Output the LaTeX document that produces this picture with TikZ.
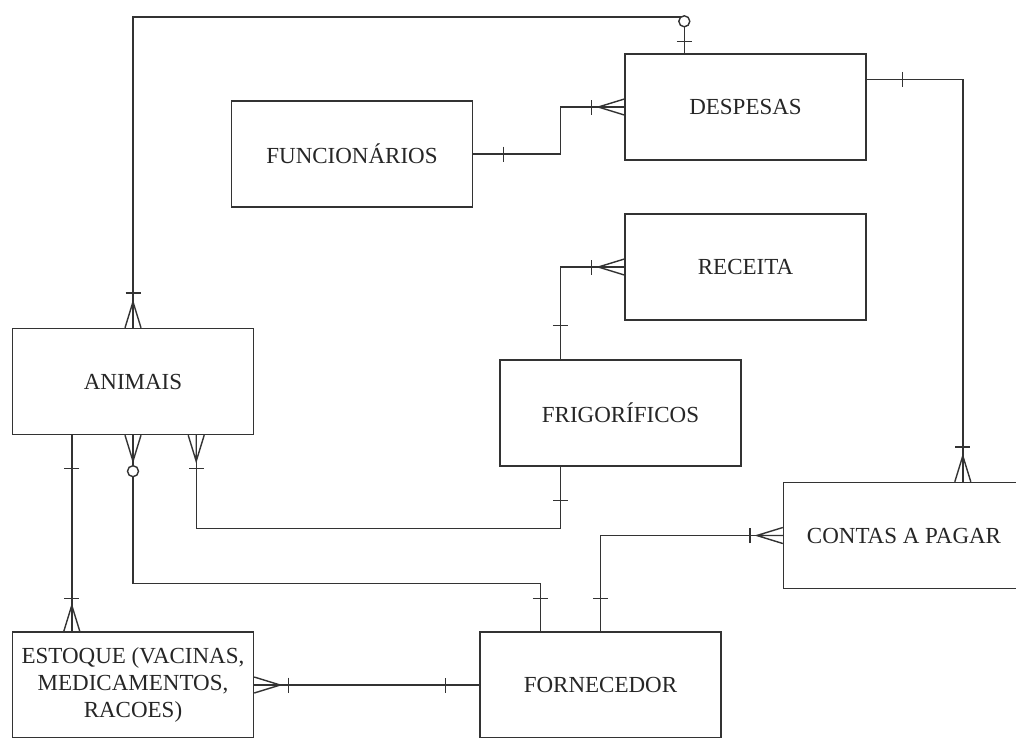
\documentclass[tikz,border=0pt]{standalone}
\usepackage{fontspec}
\setmainfont{Liberation Serif}
\usetikzlibrary{calc}
\tikzset{
  pics/crowfoot/.style={code={\draw (0,-8) -- (26,0) -- (0,8) (0,0) -- (26,0);}},
  pics/tick/.style={code={\draw (#1,-7.5) -- (#1,7.5);}},
  pics/ring/.style={code={\draw[fill=white] (#1,0) circle (5.5);}}
}
\begin{document}
\begin{tikzpicture}[x=1pt,y=-1pt,line width=1.4pt,draw=black!80,
    entity/.style={draw,rectangle,minimum width=241pt,minimum height=106pt,inner sep=2pt,align=center,
      font=\fontsize{23}{27}\selectfont,text=black!85}]
					\clip (0,0) rectangle (1016,737);
					\fill[white] (0,0) rectangle (1016,737);
					\node[entity] (despesas) at (745.5,107) {DESPESAS};
					\node[entity] (funcionarios) at (352,154) {FUNCIONÁRIOS};
					\node[entity] (receita) at (745.5,267) {RECEITA};
					\node[entity] (animais) at (133,381.5) {ANIMAIS};
					\node[entity] (frigorificos) at (620.5,413) {FRIGORÍFICOS};
					\node[entity] (contas) at (904,535.5) {CONTAS A PAGAR};
					\node[entity] (estoque) at (133,685) {ESTOQUE (VACINAS,\\MEDICAMENTOS,\\RACOES)};
					\node[entity] (fornecedor) at (600.5,685) {FORNECEDOR};
					\coordinate (dtop) at ($(despesas.north west)+(60,0)$);
					\coordinate (dright) at ($(despesas.north east)+(0,26)$);
					\coordinate (ftop) at ($(frigorificos.north west)+(61,0)$);
					\coordinate (fbottom) at ($(frigorificos.south west)+(61,0)$);
					\coordinate (ctop) at ($(contas.north west)+(180,0)$);
					\coordinate (aleft) at ($(animais.south west)+(60,0)$);
					\coordinate (aright) at ($(animais.south east)+(-58,0)$);
					\coordinate (etop) at ($(estoque.north west)+(60,0)$);
					\coordinate (ntop) at ($(fornecedor.north west)+(61,0)$);
					\draw (animais.north) |- (dtop |- 0,17) -- (dtop);
					\draw (funcionarios.east) -- ++(87,0) |- (despesas.west);
					\draw (ftop) |- (receita.west);
					\draw (dright) -| (ctop);
					\draw (aleft) -- (etop);
					\draw (animais.south) -- ++(0,148) -| (ntop);
					\draw (aright) -- ++(0,93) -| (fbottom);
					\draw (fornecedor.north) |- (contas.west);
					\draw (estoque.east) -- (fornecedor.west);
					\pic[rotate=90] at (animais.north) {crowfoot};
					\pic[rotate=90] at (animais.north) {tick=35};
					\pic[rotate=90] at (dtop) {tick=12};
					\pic[rotate=90] at (dtop) {ring=32};
					\pic at (funcionarios.east) {tick=30};
					\pic[rotate=180] at (despesas.west) {crowfoot};
					\pic[rotate=180] at (despesas.west) {tick=33};
					\pic[rotate=90] at (ftop) {tick=34};
					\pic[rotate=180] at (receita.west) {crowfoot};
					\pic[rotate=180] at (receita.west) {tick=33};
					\pic at (dright) {tick=36};
					\pic[rotate=90] at (ctop) {crowfoot};
					\pic[rotate=90] at (ctop) {tick=35};
					\pic[rotate=-90] at (aleft) {tick=33};
					\pic[rotate=90] at (etop) {crowfoot};
					\pic[rotate=90] at (etop) {tick=33};
					\pic[rotate=-90] at (animais.south) {crowfoot};
					\pic[rotate=-90] at (animais.south) {ring=36};
					\pic[rotate=90] at (ntop) {tick=33};
					\pic[rotate=-90] at (aright) {crowfoot};
					\pic[rotate=-90] at (aright) {tick=33};
					\pic[rotate=-90] at (fbottom) {tick=34};
					\pic[rotate=90] at (fornecedor.north) {tick=33};
					\pic[rotate=180] at (contas.west) {crowfoot};
					\pic[rotate=180] at (contas.west) {tick=33};
					\pic at (estoque.east) {crowfoot};
					\pic at (estoque.east) {tick=34};
					\pic[rotate=180] at (fornecedor.west) {tick=34};
			\end{tikzpicture}
\end{document}
